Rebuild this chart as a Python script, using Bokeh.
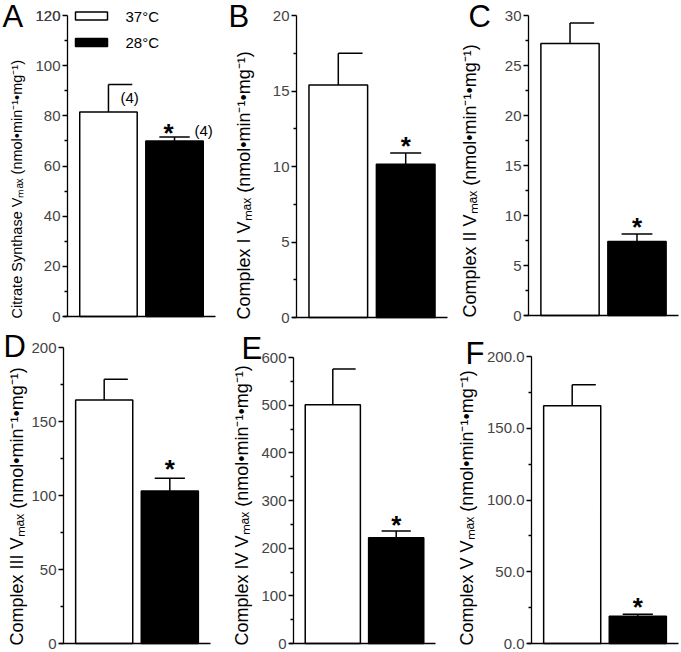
import math
from bokeh.plotting import figure
from bokeh.layouts import column, row
from bokeh.models import (Range1d, LinearAxis, FixedTicker, PrintfTickFormatter, AllLabels)
from bokeh.core.properties import value
from bokeh.embed import file_html
from bokeh.resources import INLINE

# ---------------- data ----------------
groups = ["37°C", "28°C"]
group_fill = ["white", "black"]
panel_letters = ["A", "B", "C", "D", "E", "F"]
y_titles = [
    "Citrate Synthase Vₘₐₓ (nmol•min⁻¹•mg⁻¹)",
    "Complex I Vₘₐₓ (nmol•min⁻¹•mg⁻¹)",
    "Complex II Vₘₐₓ (nmol•min⁻¹•mg⁻¹)",
    "Complex III Vₘₐₓ (nmol•min⁻¹•mg⁻¹)",
    "Complex IV Vₘₐₓ (nmol•min⁻¹•mg⁻¹)",
    "Complex V Vₘₐₓ (nmol•min⁻¹•mg⁻¹)",
]
mean_37 = [81.5, 15.4, 27.2, 164.5, 501.0, 165.6]
sem_37 = [11.0, 2.1, 2.05, 14.0, 75.0, 14.8]
mean_28 = [70.0, 10.15, 7.4, 103.0, 222.0, 19.0]
sem_28 = [1.6, 0.75, 0.75, 8.7, 14.0, 1.4]
y_ticks = [
    [0, 20, 40, 60, 80, 100, 120],
    [0, 5, 10, 15, 20],
    [0, 5, 10, 15, 20, 25, 30],
    [0, 50, 100, 150, 200],
    [0, 100, 200, 300, 400, 500, 600],
    [0, 50, 100, 150, 200],
]
tick_fmt = ["%d", "%d", "%d", "%d", "%d", "%.1f"]
n_label = "(4)"

FONT = "Liberation Sans"
X_LO, X_HI = 0.38, 2.62

# ---------------- layout (page pixels; the page has no body margin) ----------------
cfg = [
    dict(col=0, w=225, rowtop=0, h=330, ax=67, fr=215, ft=15, fb=316, lab_r=24, lab_fs=14.5, letter=(2, 16)),
    dict(col=225, w=228, rowtop=0, h=330, ax=296, fr=447, ft=15, fb=317, lab_r=253, lab_fs=18, letter=(228, 16)),
    dict(col=453, w=228, rowtop=0, h=330, ax=528, fr=678, ft=15, fb=315, lab_r=479, lab_fs=18, letter=(468, 16)),
    dict(col=0, w=225, rowtop=330, h=322, ax=63, fr=210, ft=347, fb=643, lab_r=26, lab_fs=18, letter=(3, 346)),
    dict(col=225, w=228, rowtop=330, h=322, ax=293, fr=435, ft=357, fb=643, lab_r=251, lab_fs=18, letter=(241, 348)),
    dict(col=453, w=228, rowtop=330, h=322, ax=531, fr=678, ft=356, fb=643, lab_r=476, lab_fs=18, letter=(465, 353)),
]
star_off = [(-6, -4), (0, -7), (0, -7), (0, -9), (0, -6), (0, -7)]
LEG_X, LEG_Y, LEG_W, LEG_H, LEG_TX = 75, [15.5, 42], 32, 8, 125


def style_axis(ax):
    ax.major_label_text_font = FONT
    ax.major_label_text_font_size = "15px"
    ax.major_label_standoff = 2
    ax.major_tick_in = 0
    ax.major_tick_out = 5
    ax.minor_tick_in = 0
    ax.minor_tick_out = 3
    ax.axis_line_width = 1.3
    ax.major_tick_line_width = 1.3
    ax.minor_tick_line_width = 1.3


figs = []
for i, c in enumerate(cfg):
    ticks = y_ticks[i]
    top = ticks[-1]
    step = ticks[1] - ticks[0]
    minors = [t + step / 2 for t in ticks[:-1]]
    sx = (c["fr"] - c["ax"]) / (X_HI - X_LO)
    sy = (c["fb"] - c["ft"]) / top
    x0 = X_LO - (c["ax"] - c["col"]) / sx
    x1 = X_HI + (c["col"] + c["w"] - c["fr"]) / sx
    y0 = -(c["rowtop"] + c["h"] - c["fb"]) / sy
    y1 = top + (c["ft"] - c["rowtop"]) / sy

    def X(px):
        return X_LO + (px - c["ax"]) / sx

    def Y(py):
        return (c["fb"] - py) / sy

    p = figure(width=c["w"], height=c["h"], x_range=Range1d(x0, x1),
               y_range=Range1d(y0, y1), output_backend="svg", toolbar_location=None,
               x_axis_location=None, y_axis_location=None, title=None, min_border=0)
    p.grid.visible = False
    p.outline_line_color = None

    ya = LinearAxis(fixed_location=X_LO, bounds=(0, top * 1.0005),
                    ticker=FixedTicker(ticks=ticks, minor_ticks=minors),
                    formatter=PrintfTickFormatter(format=tick_fmt[i]),
                    major_label_policy=AllLabels())
    style_axis(ya)
    p.add_layout(ya, "left")

    if i == 0:
        # second label-only axis for the top tick
        ya2 = LinearAxis(fixed_location=X_LO, bounds=(0, top * 1.0005),
                         ticker=FixedTicker(ticks=[top]),
                         formatter=PrintfTickFormatter(format=tick_fmt[i]),
                         major_label_policy=AllLabels())
        style_axis(ya2)
        ya2.axis_line_color = None
        ya2.major_tick_line_color = None
        ya2.minor_tick_line_color = None
        p.add_layout(ya2, "left")

    xa = LinearAxis(fixed_location=0, bounds=(X(c["ax"] - 4), X_HI),
                    ticker=FixedTicker(ticks=[]))
    xa.major_tick_line_color = None
    xa.minor_tick_line_color = None
    xa.major_label_standoff = 0
    xa.axis_line_width = 1.3
    p.add_layout(xa, "below")

    p.vbar(x=[1], top=[mean_37[i]], width=0.87, fill_color=group_fill[0],
           line_color="black", line_width=1.5)
    p.vbar(x=[2], top=[mean_28[i]], width=0.87, fill_color=group_fill[1],
           line_color="black", line_width=1.5)
    t37 = mean_37[i] + sem_37[i]
    t28 = mean_28[i] + sem_28[i]
    p.segment(x0=[1, 2], y0=[mean_37[i], mean_28[i]], x1=[1, 2], y1=[t37, t28],
              line_color="black", line_width=1.5)
    p.segment(x0=[1, 2 - 0.23], y0=[t37, t28], x1=[1 + 0.36, 2 + 0.23], y1=[t37, t28],
              line_color="black", line_width=1.5)

    dx, dy = star_off[i]
    p.text(x=[2], y=[t28], text=["*"], text_font=value(FONT), text_font_style="bold",
           text_font_size="26px", text_align="center", text_baseline="middle",
           x_offset=dx, y_offset=dy, text_color="black")

    if i == 0:
        p.text(x=[1], y=[t37], text=[n_label], text_font=value(FONT), text_font_size="15px",
               text_align="left", text_baseline="middle", x_offset=12, y_offset=13)
        p.text(x=[2], y=[t28], text=[n_label], text_font=value(FONT), text_font_size="15px",
               text_align="left", text_baseline="middle", x_offset=20, y_offset=-6)
        p.rect(x=[X(LEG_X + LEG_W / 2)] * 2, y=[Y(v) for v in LEG_Y],
               width=LEG_W, height=LEG_H, width_units="screen", height_units="screen",
               fill_color=group_fill, line_color="black", line_width=1.5)
        p.text(x=[X(LEG_TX)] * 2, y=[Y(v) for v in LEG_Y], text=groups,
               text_font=value(FONT), text_font_size="15px", text_align="left",
               text_baseline="middle", text_color="black")

    p.text(x=[X(c["lab_r"])], y=[Y(c["fb"] + 2)], text=[y_titles[i]], angle=math.pi / 2,
           text_font=value(FONT), text_font_size=f"{c['lab_fs']}px",
           text_align="left", text_baseline="bottom", text_color="black")

    lx, lb = c["letter"]
    p.text(x=[X(lx)], y=[Y(lb)], text=[panel_letters[i]], text_font=value(FONT),
           text_font_size="31px", text_align="left", text_baseline="alphabetic",
           text_color="black")
    figs.append(p)

layout = column(row(*figs[:3]), row(*figs[3:]))
open("out.html", "w").write(file_html(layout, INLINE))
